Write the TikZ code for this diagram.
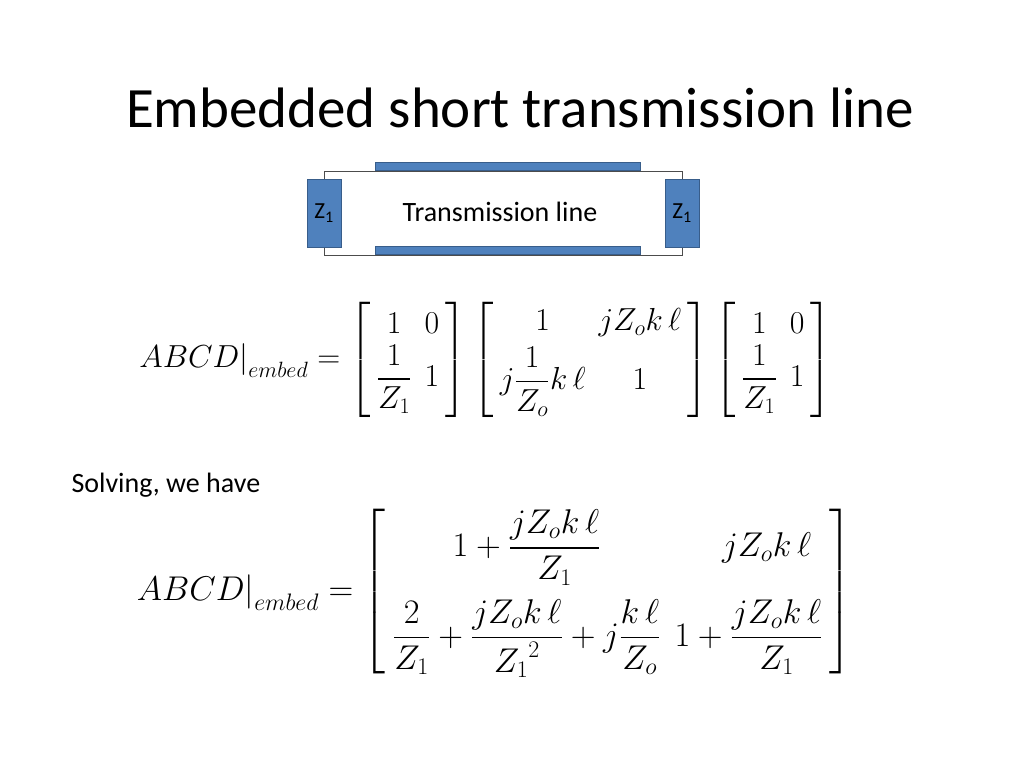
\documentclass[tikz,border=0pt]{standalone}
\usepackage{amsmath}
\usepackage{graphicx}
\usepackage{fontspec}
\setmainfont{Carlito}
\begin{document}
\begin{tikzpicture}[x=1pt,y=-1pt,
  bar/.style={fill={rgb,255:red,79;green,129;blue,189},draw={rgb,255:red,56;green,93;blue,138},line width=0.8pt},
  wire/.style={draw=black!70,line width=0.8pt},
  eq/.style={inner sep=0pt,font=\fontsize{26}{30}\selectfont}]
\useasboundingbox (0,0) rectangle (1024,768);
\node[font=\fontsize{57}{64}\selectfont] (title) at (520,108) {Embedded short transmission line};
\draw[wire] (324,179) -- (324,171) -- (682,171) -- (682,179);
\draw[wire] (324,247) -- (324,255) -- (682,255) -- (682,247);
\node[bar,minimum width=265pt,minimum height=8pt,inner sep=0pt] (top) at (507.5,166) {};
\node[bar,minimum width=265pt,minimum height=8pt,inner sep=0pt] (bot) at (507.5,250) {};
\node[bar,minimum width=34pt,minimum height=68pt,inner sep=0pt,font=\fontsize{23}{27}\selectfont] (za) at (324,213) {Z\textsubscript{1}};
\node[bar,minimum width=34pt,minimum height=68pt,inner sep=0pt,font=\fontsize{23}{27}\selectfont] (zb) at (682,213) {Z\textsubscript{1}};
\node[font=\fontsize{28}{32}\selectfont] (tl) at (500,212) {Transmission line};
\node[eq] (eq1) at (485,360) {\scalebox{1.28}{$\displaystyle \left.ABCD\right|_{embed} =
 \left[\begin{array}{cc} 1 & 0\\ \dfrac{1}{Z_1} & 1\end{array}\right]
 \left[\begin{array}{cc} 1 & jZ_o k\,\ell\\[4pt] j\dfrac{1}{Z_o}k\,\ell & 1\end{array}\right]
 \left[\begin{array}{cc} 1 & 0\\ \dfrac{1}{Z_1} & 1\end{array}\right]$}};
\node[font=\fontsize{28}{32}\selectfont,anchor=west] (solv) at (68,485) {Solving, we have};
\node[eq] (eq2) at (494,592) {\scalebox{1.38}{$\displaystyle \left.ABCD\right|_{embed} =
 \left[\begin{array}{cc} \rule{0pt}{36pt}1+\dfrac{jZ_o k\,\ell}{Z_1} & \quad jZ_o k\,\ell\\[22pt]
 \dfrac{2}{Z_1}+\dfrac{jZ_o k\,\ell}{{Z_1}^2}+j\dfrac{k\,\ell}{Z_o} & 1+\dfrac{jZ_o k\,\ell}{Z_1}\end{array}\right]$}};
\end{tikzpicture}
\end{document}
